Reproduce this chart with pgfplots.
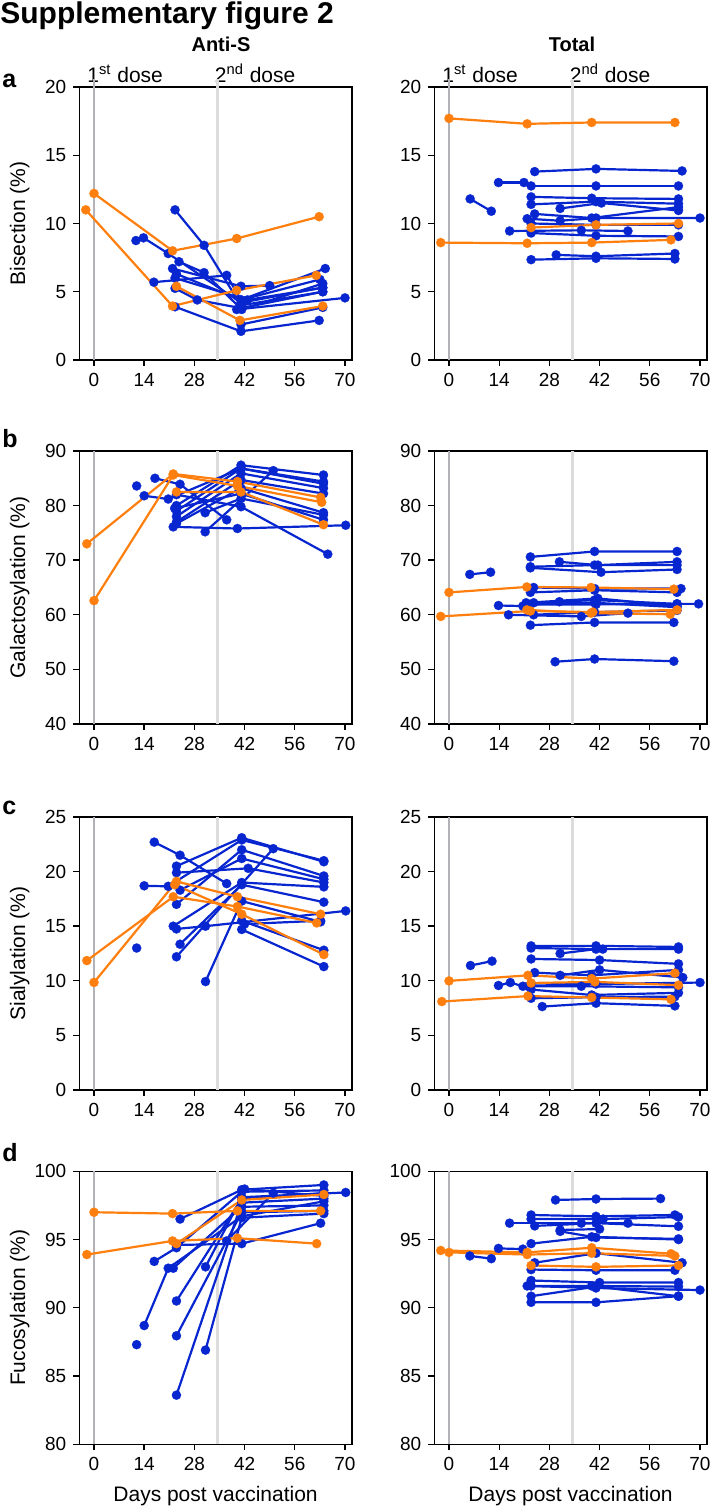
\documentclass[border=0pt]{standalone}
\usepackage{fontspec}
\setmainfont{Liberation Sans}
\usepackage{pgfplots}
\pgfplotsset{compat=1.18}
\definecolor{myblue}{RGB}{8,38,208}
\definecolor{myorange}{RGB}{255,127,14}
\definecolor{gA}{RGB}{178,178,184}
\definecolor{gB}{RGB}{220,220,220}
\pgfplotsset{
  bl/.style={myblue, line width=1.1pt, mark=*, mark size=2.3pt, mark options={fill=myblue, draw=myblue, line width=0.1pt}},
  or/.style={myorange, line width=1.1pt, mark=*, mark size=2.3pt, mark options={fill=myorange, draw=myorange, line width=0.1pt}},
  base/.style={
    scale only axis, width=136.25pt, height=136.5pt,
    anchor=south west,
    xmin=-4.1, xmax=71.9, xtick={0,14,28,42,56,70},
    tick align=outside, xtick pos=left, ytick pos=left,
    major tick length=3pt,
    axis line style={line width=0.7pt, black},
    tick style={line width=0.7pt, black},
    /pgf/number format/assume math mode=true,
    ticklabel style={font=\fontsize{9.5}{11}\selectfont},
    label style={font=\fontsize{10.5}{12}\selectfont},
    ylabel style={at={(axis description cs:-0.199,0.5)}, anchor=base},
    xlabel style={at={(axis description cs:0.5,-0.208)}, anchor=base},
    clip=false,
  },
}
\begin{document}
\begin{tikzpicture}
\useasboundingbox (0,0) rectangle (355.5pt,755pt);
% ---------- titles ----------
\node[anchor=base west, font=\fontsize{15}{18}\selectfont\bfseries, inner sep=0] at (0pt,743pt) {Supplementary figure 2};
\node[anchor=base, font=\fontsize{10}{12}\selectfont\bfseries, inner sep=0] at (110.5pt,729pt) {Anti-S};
\node[anchor=base, font=\fontsize{10}{12}\selectfont\bfseries, inner sep=0] at (286pt,729pt) {Total};
\node[anchor=base west, font=\fontsize{10.5}{12}\selectfont, inner sep=0] at (43.5pt,713.85pt) {1\textsuperscript{st} dose};
\node[anchor=base west, font=\fontsize{10.5}{12}\selectfont, inner sep=0] at (107.25pt,713.85pt) {2\textsuperscript{nd} dose};
\node[anchor=base west, font=\fontsize{10.5}{12}\selectfont, inner sep=0] at (221pt,713.85pt) {1\textsuperscript{st} dose};
\node[anchor=base west, font=\fontsize{10.5}{12}\selectfont, inner sep=0] at (284.75pt,713.85pt) {2\textsuperscript{nd} dose};
\node[anchor=base west, font=\fontsize{12.5}{14}\selectfont\bfseries, inner sep=0] at (1pt,711pt) {a};
\node[anchor=base west, font=\fontsize{12.5}{14}\selectfont\bfseries, inner sep=0] at (1pt,531pt) {b};
\node[anchor=base west, font=\fontsize{12.5}{14}\selectfont\bfseries, inner sep=0] at (1pt,347.5pt) {c};
\node[anchor=base west, font=\fontsize{12.5}{14}\selectfont\bfseries, inner sep=0] at (1pt,174pt) {d};

% ================= Row a =================
\begin{axis}[base, at={(39.65pt,575pt)}, ymin=0, ymax=20, ytick={0,5,10,15,20}, ylabel={Bisection (\%)}]
\addplot[gA, line width=1.3pt, no marks] coordinates {(0,0) (0,20.6)};
\addplot[gB, line width=1.3pt, no marks] coordinates {(34.5,0) (34.5,20.6)};
\addplot[bl] coordinates {(11.7,8.75) (13.8,8.95) (20.7,7.8) (41,4.2) (63.8,5.3)};
\addplot[bl] coordinates {(22.6,11.0) (30.7,8.4) (41,4.0) (63.8,5.0)};
\addplot[bl] coordinates {(16.7,5.7) (37,6.2) (41,4.4) (64.5,6.7)};
\addplot[bl] coordinates {(23.7,7.2) (30.7,6.4) (41.2,3.7) (63.8,5.6)};
\addplot[bl] coordinates {(21.9,6.7) (41,5.4) (49,5.45)};
\addplot[bl] coordinates {(23,6.3) (41,4.4) (63,5.9)};
\addplot[bl] coordinates {(22.6,6.0) (42.8,4.4) (63.8,5.3)};
\addplot[bl] coordinates {(22.6,5.25) (28.8,4.4) (41,3.8) (63.8,5.0)};
\addplot[bl] coordinates {(22.6,3.9) (41,2.1) (62.8,2.9)};
\addplot[bl] coordinates {(41,2.6) (63.8,3.85)};
\addplot[bl] coordinates {(39.8,3.7) (70,4.55)};
\addplot[or] coordinates {(0,12.2) (21.9,8.0) (39.8,8.9) (62.8,10.5)};
\addplot[or] coordinates {(-2.3,11.0) (21.9,3.95) (39.8,5.1) (62,6.2)};
\addplot[or] coordinates {(23,5.4) (40.7,2.9) (63.8,3.95)};
\end{axis}

\begin{axis}[base, at={(217.15pt,575pt)}, ymin=0, ymax=20, ytick={0,5,10,15,20}]
\addplot[gA, line width=1.3pt, no marks] coordinates {(0,0) (0,20.6)};
\addplot[gB, line width=1.3pt, no marks] coordinates {(34.5,0) (34.5,20.6)};
\addplot[bl] coordinates {(5.9,11.8) (11.8,10.9)};
\addplot[bl] coordinates {(13.8,13.0) (20.9,13.0)};
\addplot[bl] coordinates {(22.9,12.75) (41,12.75) (64,12.75)};
\addplot[bl] coordinates {(23.9,13.8) (41,14.0) (65,13.85)};
\addplot[bl] coordinates {(22.9,11.95) (39.8,11.85) (64,11.8)};
\addplot[bl] coordinates {(22.9,11.4) (41,11.6) (64,11.45)};
\addplot[bl] coordinates {(31,11.1) (42.5,11.5) (64,10.95)};
\addplot[bl] coordinates {(23.9,10.7) (39.8,10.4) (64,11.2)};
\addplot[bl] coordinates {(21.8,10.35) (31,10.2) (41,10.4) (70,10.4)};
\addplot[bl] coordinates {(16.9,9.45) (36.9,9.5) (49.9,9.45)};
\addplot[bl] coordinates {(22.9,9.3) (41,9.1) (64,9.05)};
\addplot[bl] coordinates {(22.9,10.0) (41,9.9) (64,9.9)};
\addplot[bl] coordinates {(29.9,7.7) (41,7.6) (63,7.8)};
\addplot[bl] coordinates {(22.9,7.35) (41,7.45) (63,7.4)};
\addplot[or] coordinates {(0,17.7) (21.8,17.3) (39.8,17.4) (63,17.4)};
\addplot[or] coordinates {(-2.3,8.6) (21.8,8.55) (39.8,8.6) (61.9,8.8)};
\addplot[or] coordinates {(22.9,9.7) (41,9.9) (64,10.0)};
\end{axis}

% ================= Row b =================
\begin{axis}[base, at={(39.65pt,393pt)}, ymin=40, ymax=90, ytick={40,50,60,70,80,90}, ylabel={Galactosylation (\%)}]
\addplot[gA, line width=1.3pt, no marks] coordinates {(0,40) (0,90)};
\addplot[gB, line width=1.3pt, no marks] coordinates {(34.5,40) (34.5,90)};
\addplot[bl] coordinates {(11.9,83.6)};
\addplot[bl] coordinates {(14,81.8) (20.7,81.2) (41,86.8) (64,84.4)};
\addplot[bl] coordinates {(17,85.0) (24,83.9) (37,77.4)};
\addplot[bl] coordinates {(22.1,76.1) (40,75.8) (70.2,76.4)};
\addplot[bl] coordinates {(23,80.0) (41,87.4) (64,85.6)};
\addplot[bl] coordinates {(23,79.0) (41,86.8) (64,84.0)};
\addplot[bl] coordinates {(23,78.0) (41,85.9) (64,83.2)};
\addplot[bl] coordinates {(23,77.0) (41,84.7) (64,82.2)};
\addplot[bl] coordinates {(23,76.7) (41,83.2) (64,78.7)};
\addplot[bl] coordinates {(31,75.2) (50,86.4)};
\addplot[bl] coordinates {(31,78.7) (41,81.3) (64,78.3)};
\addplot[bl] coordinates {(23,82.0) (41,79.8) (65.2,71.1)};
\addplot[bl] coordinates {(22.5,79.5) (41,82.2) (64,77.4)};
\addplot[or] coordinates {(-2,73.0) (22.1,85.8) (40,84.4) (63.2,81.5)};
\addplot[or] coordinates {(0,62.6) (22.1,85.6) (40,83.6) (63.5,80.6)};
\addplot[or] coordinates {(23,82.5) (41,82.5) (64,76.5)};
\end{axis}

\begin{axis}[base, at={(217.15pt,393pt)}, ymin=40, ymax=90, ytick={40,50,60,70,80,90}]
\addplot[gA, line width=1.3pt, no marks] coordinates {(0,40) (0,90)};
\addplot[gB, line width=1.3pt, no marks] coordinates {(34.5,40) (34.5,90)};
\addplot[bl] coordinates {(5.8,67.4) (11.6,67.8)};
\addplot[bl] coordinates {(22.7,70.6) (40.6,71.6) (63.6,71.6)};
\addplot[bl] coordinates {(22.7,68.8) (40.6,69.1) (63.6,69.1)};
\addplot[bl] coordinates {(30.8,69.7) (41.5,69.1) (63.6,69.7)};
\addplot[bl] coordinates {(22.7,68.6) (42.4,67.8) (63.6,68.3)};
\addplot[bl] coordinates {(23.6,65.0) (40.6,64.8) (64.7,64.8)};
\addplot[bl] coordinates {(22.7,64.1) (40.6,64.5) (63.6,64.1)};
\addplot[bl] coordinates {(13.8,61.7) (20.6,61.6) (30.8,62.4) (40.6,62.7) (63.6,62.0)};
\addplot[bl] coordinates {(21.5,62.2) (41.5,63.0) (63.6,61.6)};
\addplot[bl] coordinates {(23.6,62.2) (40.6,62.2) (63.6,61.4)};
\addplot[bl] coordinates {(22,61.9) (41,61.9) (63.6,62.0) (69.6,62.0)};
\addplot[bl] coordinates {(16.6,60.0) (36.9,59.7) (49.9,60.3)};
\addplot[bl] coordinates {(23.6,60.0) (40.6,60.5) (63.6,60.8)};
\addplot[bl] coordinates {(22.7,58.1) (40.6,58.6) (62.7,58.6)};
\addplot[bl] coordinates {(29.6,51.4) (40.6,51.9) (62.7,51.5)};
\addplot[or] coordinates {(0,64.1) (21.7,65.1) (39.6,65.0) (62.7,64.7)};
\addplot[or] coordinates {(-2.3,59.7) (22.7,60.7) (40.1,60.5) (63.6,60.9)};
\addplot[or] coordinates {(21.7,60.9) (39.6,60.3) (61.7,60.1)};
\end{axis}

% ================= Row c =================
\begin{axis}[base, at={(39.65pt,210pt)}, ymin=0, ymax=25, ytick={0,5,10,15,20,25}, ylabel={Sialylation (\%)}]
\addplot[gA, line width=1.3pt, no marks] coordinates {(0,0) (0,25)};
\addplot[gB, line width=1.3pt, no marks] coordinates {(34.5,0) (34.5,25)};
\addplot[bl] coordinates {(16.8,22.7) (24,21.5) (37,18.9)};
\addplot[bl] coordinates {(14,18.7) (20.7,18.65) (41.2,22.9) (64.1,21.0)};
\addplot[bl] coordinates {(11.9,13.0)};
\addplot[bl] coordinates {(23,20.5) (41.2,23.1) (64.1,20.9)};
\addplot[bl] coordinates {(23,19.9) (43,20.3) (64.1,19.0)};
\addplot[bl] coordinates {(24,18.3) (41.2,21.2) (64.1,19.3)};
\addplot[bl] coordinates {(23,17.0) (41.2,22.0) (64.1,19.6)};
\addplot[bl] coordinates {(22.1,15.0) (41.2,19.0) (64.1,18.6)};
\addplot[bl] coordinates {(23,14.75) (31.1,15.0) (70.2,16.4)};
\addplot[bl] coordinates {(24,13.35) (41.2,18.8) (64.1,17.2)};
\addplot[bl] coordinates {(23,12.2) (50,22.1)};
\addplot[bl] coordinates {(31.1,9.93) (41.2,17.3) (63.2,15.4)};
\addplot[bl] coordinates {(41.2,15.5) (64.1,12.8)};
\addplot[bl] coordinates {(41.2,14.7) (64.1,11.3)};
\addplot[bl] coordinates {(42,15.2) (63.2,15.5)};
\addplot[or] coordinates {(-2,11.85) (22.1,17.7) (40,16.8) (62.1,15.3)};
\addplot[or] coordinates {(0,9.85) (23,19.1) (40,17.7) (63.2,16.1)};
\addplot[or] coordinates {(22.5,18.8) (41.2,16.1) (64.1,12.4)};
\end{axis}

\begin{axis}[base, at={(217.15pt,210pt)}, ymin=0, ymax=25, ytick={0,5,10,15,20,25}]
\addplot[gA, line width=1.3pt, no marks] coordinates {(0,0) (0,25)};
\addplot[gB, line width=1.3pt, no marks] coordinates {(34.5,0) (34.5,25)};
\addplot[bl] coordinates {(6.0,11.4) (12,11.8)};
\addplot[bl] coordinates {(22.9,13.2) (41,13.2) (64,13.1)};
\addplot[bl] coordinates {(22.9,13.0) (42.9,12.9) (64,12.9)};
\addplot[bl] coordinates {(31,12.5) (41,12.9)};
\addplot[bl] coordinates {(22.9,12.0) (42,11.9) (64,11.55)};
\addplot[bl] coordinates {(23.9,10.75) (39.8,10.5) (64,11.0)};
\addplot[bl] coordinates {(31,10.5) (42,11.0) (65.2,10.3)};
\addplot[bl] coordinates {(13.8,9.57) (17.1,9.84) (20.6,9.5)};
\addplot[bl] coordinates {(22.9,9.75) (41,9.7) (70,9.84)};
\addplot[bl] coordinates {(22,9.5) (36.9,9.5) (64,9.4)};
\addplot[bl] coordinates {(22.9,9.2) (39.8,8.7) (64,8.9)};
\addplot[bl] coordinates {(22.9,8.4) (41,8.5) (63,8.55)};
\addplot[bl] coordinates {(26,7.64) (41,7.95) (63,7.7)};
\addplot[or] coordinates {(0,9.99) (22,10.5) (39.8,10.2) (63,10.7)};
\addplot[or] coordinates {(-2,8.1) (22,8.6) (39.8,8.47) (61.9,8.3)};
\addplot[or] coordinates {(22.9,9.8) (40.7,9.9) (64,9.6)};
\end{axis}

% ================= Row d =================
\begin{axis}[base, at={(39.65pt,32.85pt)}, ymin=80, ymax=100, ytick={80,85,90,95,100}, ylabel={Fucosylation (\%)}, xlabel={Days post vaccination}]
\addplot[gA, line width=1.3pt, no marks] coordinates {(0,80) (0,100)};
\addplot[gB, line width=1.3pt, no marks] coordinates {(34.5,80) (34.5,100)};
\addplot[bl] coordinates {(11.9,87.3)};
\addplot[bl] coordinates {(14,88.7) (20.7,92.9) (41.2,96.7) (64.1,97.8)};
\addplot[bl] coordinates {(16.8,93.4) (23,94.4) (41.2,98.5) (64.1,98.6)};
\addplot[bl] coordinates {(22.1,92.9) (41.2,97.4) (64.1,97.5)};
\addplot[bl] coordinates {(24,96.5) (41.2,98.65) (64.1,99.0)};
\addplot[bl] coordinates {(23,90.5) (41.2,98.0) (64.1,98.4)};
\addplot[bl] coordinates {(23,87.95) (41.2,97.0) (64.1,97.1)};
\addplot[bl] coordinates {(23,83.6) (41.2,97.7) (64.1,98.0)};
\addplot[bl] coordinates {(31.1,86.9) (41.2,96.6) (64.1,96.9)};
\addplot[bl] coordinates {(31.1,93.0) (41.2,98.1) (70.2,98.45)};
\addplot[bl] coordinates {(37,94.9) (50,98.4)};
\addplot[bl] coordinates {(23,94.6) (41.2,94.7) (63.2,96.2)};
\addplot[bl] coordinates {(42,98.7) (64.1,98.2)};
\addplot[or] coordinates {(0,97.0) (21.9,96.9) (40,97.1) (63.2,97.1)};
\addplot[or] coordinates {(-2,93.9) (21.9,94.9) (40,95.1) (62.1,94.7)};
\addplot[or] coordinates {(23,94.7) (41.2,97.9) (64.1,98.3)};
\end{axis}

\begin{axis}[base, at={(217.15pt,32.85pt)}, ymin=80, ymax=100, ytick={80,85,90,95,100}, xlabel={Days post vaccination}]
\addplot[gA, line width=1.3pt, no marks] coordinates {(0,80) (0,100)};
\addplot[gB, line width=1.3pt, no marks] coordinates {(34.5,80) (34.5,100)};
\addplot[bl] coordinates {(5.8,93.8) (11.8,93.6)};
\addplot[bl] coordinates {(29.7,97.9) (41,97.97) (59,98.0)};
\addplot[bl] coordinates {(22.9,96.8) (41,96.7) (63,96.8)};
\addplot[bl] coordinates {(22.9,96.5) (43,96.5) (64,96.65)};
\addplot[bl] coordinates {(16.9,96.2) (36.9,96.2) (49.9,96.2)};
\addplot[bl] coordinates {(23.9,96.0) (41,96.2) (64,95.97)};
\addplot[bl] coordinates {(31,95.7) (42,95.77)};
\addplot[bl] coordinates {(22.9,94.7) (39.8,95.2) (64,95.0)};
\addplot[bl] coordinates {(31,95.6) (41,95.15) (64,95.05)};
\addplot[bl] coordinates {(13.8,94.35) (20.6,94.3)};
\addplot[bl] coordinates {(23.9,93.3) (41,94.0) (65,93.3)};
\addplot[bl] coordinates {(22.9,92.8) (41,92.75) (63,92.75)};
\addplot[bl] coordinates {(22.9,92.0) (42,91.85) (64,91.85)};
\addplot[bl] coordinates {(21.8,91.6) (41,91.45) (70,91.3)};
\addplot[bl] coordinates {(22.9,91.6) (39.8,91.6) (64,91.55)};
\addplot[bl] coordinates {(22.9,90.85) (41,91.55) (64,90.85)};
\addplot[bl] coordinates {(22.9,90.4) (41,90.4) (64,90.85)};
\addplot[or] coordinates {(-2.3,94.2) (21.8,94.06) (39.8,94.4) (61.9,93.96)};
\addplot[or] coordinates {(0,94.06) (21.8,93.9) (39.8,94.0) (63,93.8)};
\addplot[or] coordinates {(22.9,93.1) (41,93.0) (64,93.1)};
\end{axis}
\end{tikzpicture}
\end{document}
